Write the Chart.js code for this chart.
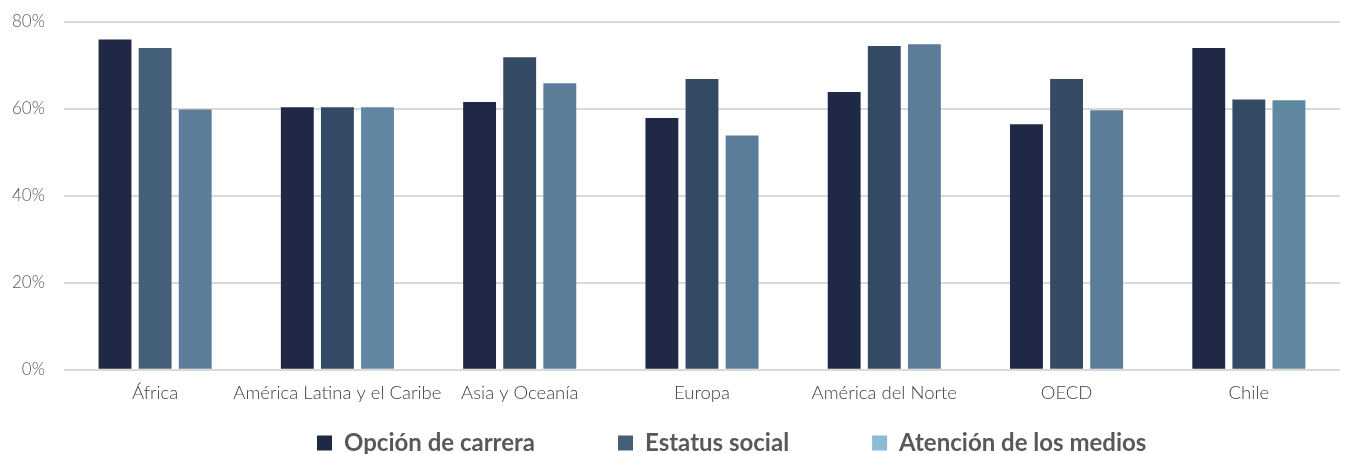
<!DOCTYPE html>
<html>
<head>
<meta charset="utf-8">
<script src="https://cdn.jsdelivr.net/npm/chart.js@4"></script>
<style>
  html, body { margin: 0; padding: 0; background: #ffffff; overflow: hidden; }
  #wrap { position: relative; width: 1346px; height: 462px; }
</style>
</head>
<body>
<div id="wrap"><canvas id="c"></canvas></div>
<script>
const categories = ["África", "América Latina y el Caribe", "Asia y Oceanía", "Europa", "América del Norte", "OECD", "Chile"];
const seriesNames = ["Opción de carrera", "Estatus social", "Atención de los medios"];
const opcionCarrera = [76, 60.4, 61.6, 57.9, 63.9, 56.5, 74.0];
const estatusSocial = [74.0, 60.4, 71.9, 66.9, 74.5, 66.9, 62.2];
const atencionMedios = [59.9, 60.4, 65.9, 53.9, 74.9, 59.7, 62.0];
const yTicks = [0, 20, 40, 60, 80];

const barColors1 = ["#1f2945", "#1f2945", "#1f2945", "#1f2945", "#1f2945", "#1f2945", "#1f2945"];
const barColors2 = ["#446079", "#344a64", "#344a64", "#344a64", "#344a64", "#344a64", "#344a64"];
const barColors3 = ["#5b7d99", "#6088a2", "#5b7d99", "#5b7d99", "#5b7d99", "#5b7d99", "#6088a0"];
const legendColors = ["#1f2945", "#446079", "#8dbbd3"];

const LEGEND_START_X = 317;
const LEGEND_CENTER_Y = 443;

const legendPlace = {
  id: 'legendPlace',
  afterLayout(chart) {
    const lg = chart.legend;
    if (!lg || !lg.lineWidths) return;
    const pad = lg.options.labels.padding;
    const cur = (lg.left + pad + lg.right - lg.lineWidths[0]) / 2;
    const d = LEGEND_START_X - cur;
    lg.left += d;
    lg.right += d;
    const ih = lg._itemHeight || lg.options.labels.font.size;
    lg.top = LEGEND_CENTER_Y - pad - ih / 2;
    lg.bottom = chart.height + 20;
  }
};

new Chart(document.getElementById('c'), {
  type: 'bar',
  data: {
    labels: categories,
    datasets: [
      { label: seriesNames[0], data: opcionCarrera, backgroundColor: barColors1 },
      { label: seriesNames[1], data: estatusSocial, backgroundColor: barColors2 },
      { label: seriesNames[2], data: atencionMedios, backgroundColor: barColors3 }
    ]
  },
  plugins: [legendPlace],
  options: {
    responsive: true,
    maintainAspectRatio: false,
    animation: false,
    datasets: { bar: { categoryPercentage: 0.66, barPercentage: 0.82 } },
    layout: { padding: { left: -7, right: 6, top: 0, bottom: 0 } },
    scales: {
      x: {
        grid: { display: false },
        border: { display: false },
        ticks: { color: '#404040', padding: 4, maxRotation: 0, autoSkip: false,
                 font: { family: 'Lato', size: 18.5, weight: '300' } }
      },
      y: {
        min: 0, max: 80,
        afterBuildTicks(axis) { axis.ticks = yTicks.map(v => ({ value: v })); },
        afterFit(scale) { scale.paddingTop = 22; scale.paddingBottom = 10; },
        grid: { color: '#d9d9d9', lineWidth: 2, drawTicks: false },
        border: { display: false },
        ticks: { color: '#595959', padding: 19, callback: v => v + '%',
                 font: { family: 'Lato', size: 17, weight: '300' } }
      }
    },
    plugins: {
      tooltip: { enabled: false },
      legend: {
        position: 'bottom',
        maxHeight: 54,
        labels: {
          boxWidth: 15, boxHeight: 15, padding: 83,
          color: '#595959',
          font: { family: 'Lato', size: 24, weight: 'bold' },
          generateLabels(chart) {
            return seriesNames.map((n, i) => ({
              text: n, fillStyle: legendColors[i], strokeStyle: legendColors[i],
              lineWidth: 0, hidden: false, datasetIndex: i, fontColor: '#595959'
            }));
          }
        }
      }
    }
  }
});
</script>
</body>
</html>
